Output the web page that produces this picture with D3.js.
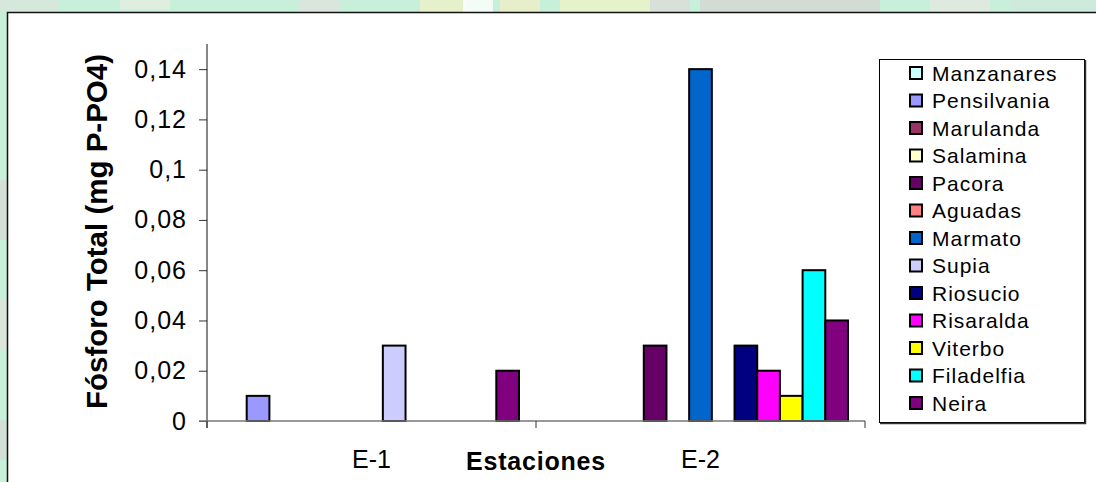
<!DOCTYPE html>
<html>
<head>
<meta charset="utf-8">
<script src="https://cdn.jsdelivr.net/npm/d3@7"></script>
<style>
  html, body { margin: 0; padding: 0; background: #c8efd9; }
  svg { display: block; font-family: Arial, "Liberation Sans", sans-serif; }
</style>
</head>
<body>
<svg id="chart" width="1096" height="482"></svg>
<script>
// Stations on the category axis
const categories = ["E-1", "E-2"];

// Municipalities (one series each)
const seriesNames = ["Manzanares", "Pensilvania", "Marulanda", "Salamina", "Pacora",
  "Aguadas", "Marmato", "Supia", "Riosucio", "Risaralda", "Viterbo", "Filadelfia", "Neira"];

// Total phosphorus (mg P-PO4) per station; null = no measurement
const valuesE1 = [null, 0.01, null, null, null, null, null, 0.03, null, null, null, null, 0.02];
const valuesE2 = [null, null, null, null, 0.03, null, 0.14, null, 0.03, 0.02, 0.01, 0.06, 0.04];

const seriesColors = ["#CCFFFF", "#9999FF", "#993366", "#FFFFCC", "#660066", "#FF8080",
  "#0066CC", "#CCCCFF", "#000080", "#FF00FF", "#FFFF00", "#00FFFF", "#800080"];

const yTicks = [0, 0.02, 0.04, 0.06, 0.08, 0.1, 0.12, 0.14];
const yTickLabels = ["0", "0,02", "0,04", "0,06", "0,08", "0,1", "0,12", "0,14"];

const yTitle = "Fósforo Total (mg P-PO4)";
const xTitle = "Estaciones";

const svg = d3.select("#chart");

// Mottled green backdrop behind the chart sheet
const bg = svg.append("g");
bg.append("rect").attr("width", 1096).attr("height", 482).attr("fill", "#c8efd9");
const patches = [
  [0, 0, 60, 12, "#d9e6dc"], [120, 0, 50, 10, "#e6eee0"], [300, 0, 40, 12, "#dfe3dd"],
  [420, 0, 45, 12, "#eef1c8"], [463, 0, 30, 12, "#ffffff"], [500, 0, 40, 12, "#eeefc6"],
  [560, 0, 90, 12, "#eef2c4"], [650, 0, 40, 12, "#dddcd8"], [700, 0, 180, 12, "#d6d6d3"],
  [930, 0, 60, 12, "#e3e8e0"], [1010, 0, 86, 12, "#cfe9dc"], [0, 180, 7, 60, "#d8dcd8"],
  [0, 300, 7, 50, "#dfe4dc"], [0, 420, 7, 40, "#d6dcd6"]
];
bg.selectAll("rect.patch").data(patches).join("rect")
  .attr("class", "patch")
  .attr("x", d => d[0]).attr("y", d => d[1])
  .attr("width", d => d[2]).attr("height", d => d[3])
  .attr("fill", d => d[4]).attr("opacity", 0.8);

// White chart sheet
svg.append("rect").attr("x", 7).attr("y", 12).attr("width", 1100).attr("height", 480)
  .attr("fill", "#ffffff");
svg.append("path").attr("d", "M7.5,482V12.5H1096")
  .attr("fill", "none").attr("stroke", "#111").attr("stroke-width", 1.5);

// Plot area
const plot = { left: 207, right: 865, top: 44, bottom: 421 };

const x0 = d3.scaleBand().domain(categories).range([plot.left, plot.right])
  .paddingInner(0).paddingOuter(0);
const x1 = d3.scaleBand().domain(seriesNames).range([0, x0.bandwidth()])
  .paddingInner(0).paddingOuter(0.75);
const y = d3.scaleLinear().domain([0, 0.15]).range([plot.bottom, plot.top]);

const byCategory = { "E-1": valuesE1, "E-2": valuesE2 };

// Bars
const bars = [];
categories.forEach(c => {
  byCategory[c].forEach((v, i) => {
    if (v !== null) bars.push({ cat: c, name: seriesNames[i], value: v, color: seriesColors[i] });
  });
});
svg.append("g").selectAll("rect").data(bars).join("rect")
  .attr("x", d => x0(d.cat) + x1(d.name))
  .attr("y", d => y(d.value))
  .attr("width", x1.bandwidth())
  .attr("height", d => y(0) - y(d.value))
  .attr("fill", d => d.color)
  .attr("stroke", "#000")
  .attr("stroke-width", 2);

// Y axis
const yAxis = d3.axisLeft(y).tickValues(yTicks)
  .tickFormat((d, i) => yTickLabels[i]).tickSize(8).tickPadding(12);
const gy = svg.append("g").attr("transform", `translate(${plot.left},0)`).call(yAxis);
gy.select(".domain").remove();
gy.selectAll(".tick line").attr("stroke", "#333");
gy.selectAll(".tick text").attr("font-size", 25).attr("fill", "#000")
  .attr("letter-spacing", 1)
  .attr("font-family", "Arial, 'Liberation Sans', sans-serif");
svg.append("line").attr("x1", plot.left).attr("x2", plot.left)
  .attr("y1", plot.top).attr("y2", plot.bottom + 7)
  .attr("stroke", "#111").attr("stroke-width", 1);

// X axis (category boundaries as ticks)
svg.append("line").attr("x1", plot.left - 8).attr("x2", plot.right)
  .attr("y1", y(0)).attr("y2", y(0))
  .attr("stroke", "#777").attr("stroke-width", 1.6);
const boundaries = categories.map(c => x0(c)).concat([plot.right]);
svg.append("g").selectAll("line").data(boundaries).join("line")
  .attr("x1", d => d).attr("x2", d => d)
  .attr("y1", y(0)).attr("y2", y(0) + 7)
  .attr("stroke", "#333").attr("stroke-width", 1);
svg.append("g").selectAll("text").data(categories).join("text")
  .attr("x", d => x0(d) + x0.bandwidth() / 2)
  .attr("y", 468)
  .attr("text-anchor", "middle")
  .attr("font-size", 25)
  .text(d => d);

// Axis titles
svg.append("text")
  .attr("transform", `translate(107,${(plot.top + plot.bottom) / 2 - 1}) rotate(-90)`)
  .attr("text-anchor", "middle")
  .attr("font-size", 29.5).attr("font-weight", "bold")
  .text(yTitle);
svg.append("text")
  .attr("x", (plot.left + plot.right) / 2).attr("y", 470)
  .attr("text-anchor", "middle")
  .attr("font-size", 25).attr("font-weight", "bold")
  .attr("letter-spacing", 0.8)
  .text(xTitle);

// Legend
const legend = svg.append("g");
legend.append("rect").attr("x", 879.5).attr("y", 59.5).attr("width", 205).attr("height", 363)
  .attr("fill", "#fff").attr("stroke", "#000").attr("stroke-width", 1);
legend.append("path").attr("d", "M1085.5,60V423.5H880")
  .attr("fill", "none").attr("stroke", "#333").attr("stroke-width", 1.5);
const items = legend.selectAll("g.item").data(seriesNames).join("g")
  .attr("class", "item")
  .attr("transform", (d, i) => `translate(0,${73 + i * 27.5})`);
items.append("rect").attr("x", 910).attr("y", -6).attr("width", 12).attr("height", 12)
  .attr("fill", (d, i) => seriesColors[i]).attr("stroke", "#000").attr("stroke-width", 2);
items.append("text").attr("x", 932).attr("y", 0).attr("dy", "0.36em")
  .attr("font-size", 21).attr("letter-spacing", 1)
  .text(d => d);
</script>
</body>
</html>
